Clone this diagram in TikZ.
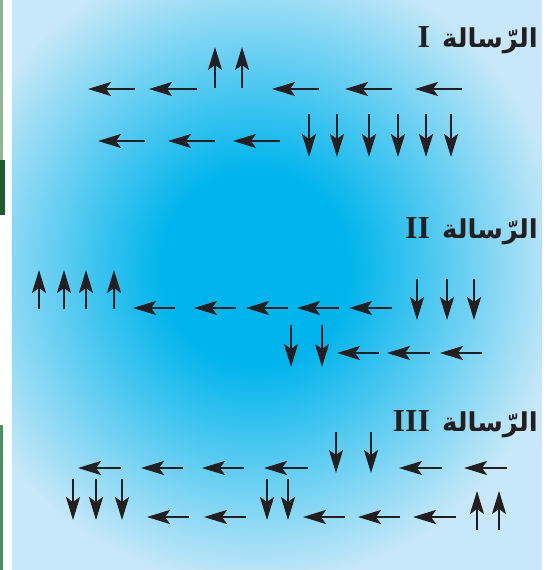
\documentclass[tikz,border=0pt]{standalone}
\usepackage{fontspec}
\newfontfamily\arabicfont[Script=Arabic]{DejaVu Sans}
\newfontfamily\numfont{Liberation Serif}
\TeXXeTstate=1
\usetikzlibrary{arrows.meta}

\definecolor{panelblue}{HTML}{C6E8F8}
\definecolor{coreblue}{HTML}{00B4EC}
\definecolor{spinblack}{HTML}{231F20}
\definecolor{edgegreen}{HTML}{8FB596}
\definecolor{darkgreen}{HTML}{1F5A30}
\definecolor{midgreen}{HTML}{4E8E62}
\pgfdeclareradialshading{glow}{\pgfpointorigin}{color(0bp)=(coreblue); color(7bp)=(coreblue); color(23bp)=(panelblue); color(50bp)=(panelblue)}

\begin{document}
\begin{tikzpicture}[x=1pt, y=-1pt,
  spin/.style={draw=spinblack, line width=2.4pt,
    -{Stealth[length=23pt,width=14pt,inset=5pt]}},
  msg/.style={anchor=base east, inner sep=0pt, text=spinblack}]
  \useasboundingbox (0,0) rectangle (552,570);
  % Page edge
  \fill[white] (0,0) rectangle (12,570);
  \fill[edgegreen] (0,0) rectangle (3,160);
  \fill[darkgreen] (0,160) rectangle (5,215);
  \fill[midgreen] (0,425) rectangle (3,570);
  % Panel with its glow
  \fill[panelblue] (12,0) rectangle (542,570);
  \begin{scope}
    \clip (12,0) rectangle (542,570);
    \shade[shading=glow] (255,268) ellipse [x radius=335pt, y radius=345pt];
  \end{scope}
  % Titles
  \node[msg] (msgI) at (538,47) {\numfont\fontsize{32}{32}\selectfont\bfseries I\hspace{12pt}{\arabicfont\fontsize{26}{26}\selectfont\beginR الرّسالة\endR}};
  \node[msg] (msgII) at (538,238) {\numfont\fontsize{32}{32}\selectfont\bfseries II\hspace{12pt}{\arabicfont\fontsize{26}{26}\selectfont\beginR الرّسالة\endR}};
  \node[msg] (msgIII) at (538,431) {\numfont\fontsize{32}{32}\selectfont\bfseries III\hspace{12pt}{\arabicfont\fontsize{26}{26}\selectfont\beginR الرّسالة\endR}};
  % Message I
  \foreach \xa/\xb in {88/135,149/197,272/319,345/392,415/462}
    \draw[spin] (\xb,89) -- (\xa,89);
  \foreach \x in {215,242}
    \draw[spin] (\x,88) -- (\x,47);
  \foreach \xa/\xb in {98/145,168/215,233/280}
    \draw[spin] (\xb,141) -- (\xa,141);
  \foreach \x in {309,337,369,398,426,451}
    \draw[spin] (\x,114) -- (\x,157);
  % Message II
  \foreach \x in {39,64,86,114}
    \draw[spin] (\x,309) -- (\x,270);
  \foreach \xa/\xb in {133/175,194/236,246/288,297/339,349/392}
    \draw[spin] (\xb,308) -- (\xa,308);
  \foreach \x in {417,447,474}
    \draw[spin] (\x,279) -- (\x,320);
  \foreach \x in {291,322}
    \draw[spin] (\x,325) -- (\x,367);
  \foreach \xa/\xb in {337/379,387/430,440/482}
    \draw[spin] (\xb,353) -- (\xa,353);
  % Message III
  \foreach \xa/\xb in {78/121,141/183,202/244,264/308,399/442,464/507}
    \draw[spin] (\xb,468) -- (\xa,468);
  \foreach \x in {336,371}
    \draw[spin] (\x,432) -- (\x,473);
  \foreach \x in {73,96,122,267,288}
    \draw[spin] (\x,479) -- (\x,520);
  \foreach \xa/\xb in {147/189,204/246,303/345,358/400,413/456}
    \draw[spin] (\xb,517) -- (\xa,517);
  \foreach \x in {477,499}
    \draw[spin] (\x,530) -- (\x,491);
\end{tikzpicture}
\end{document}
